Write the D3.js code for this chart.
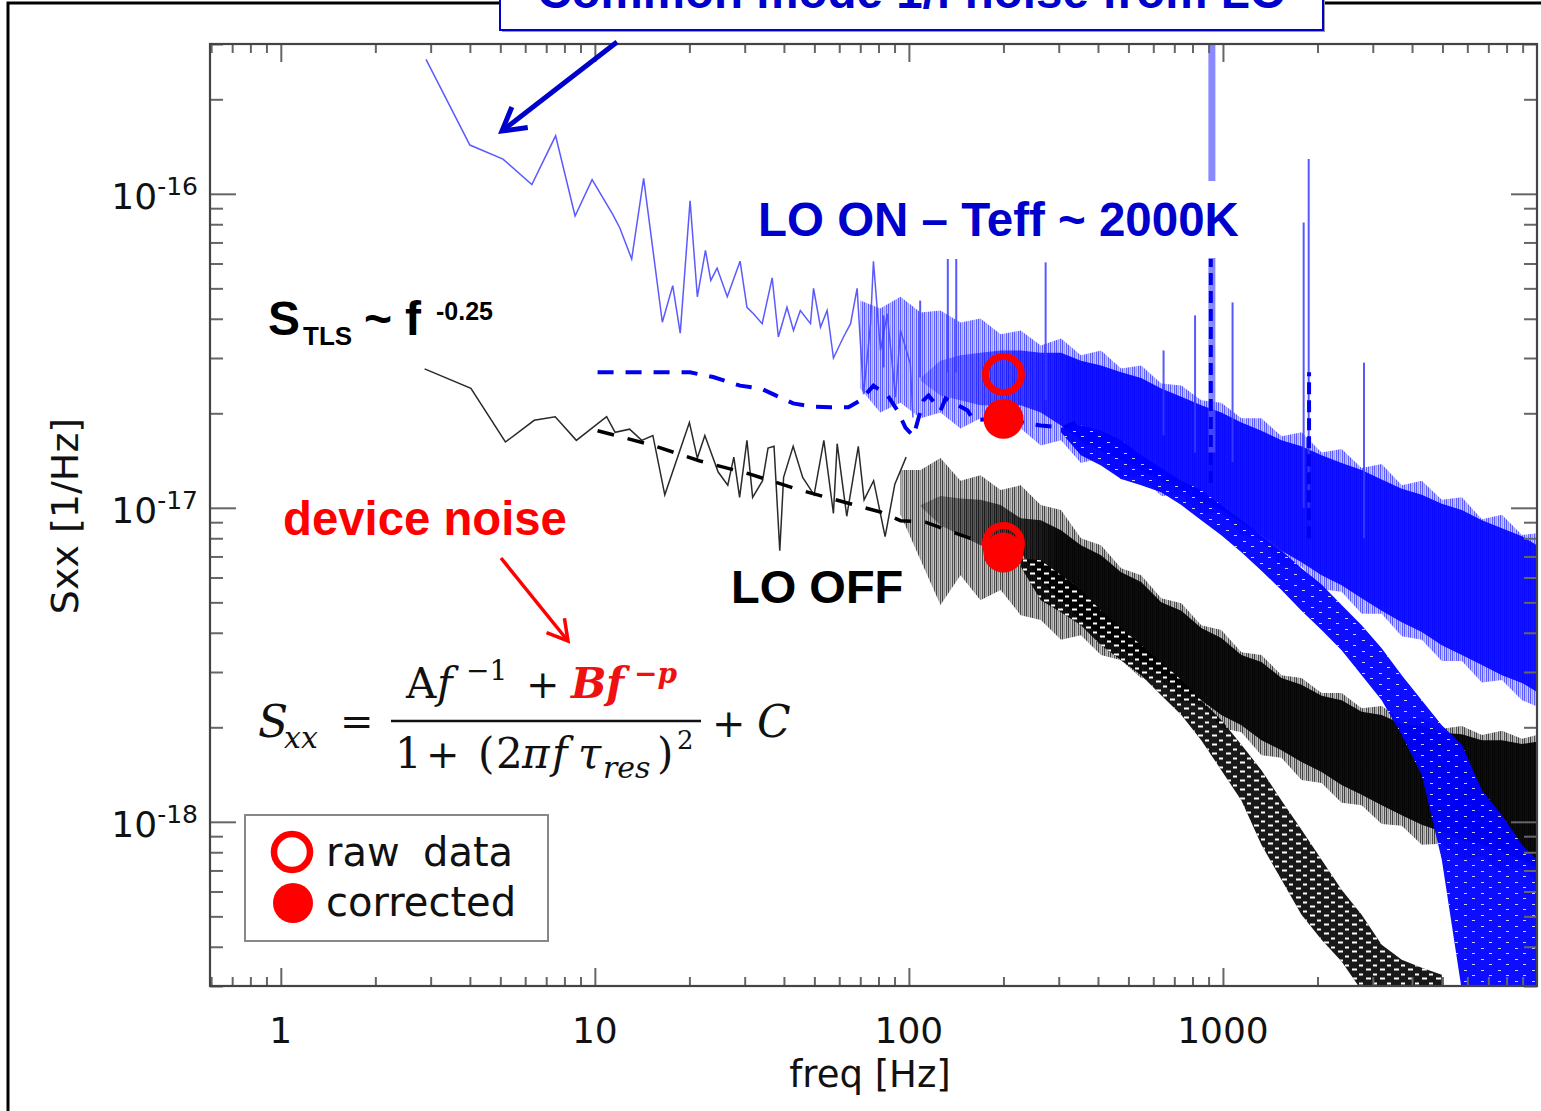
<!DOCTYPE html>
<html><head><meta charset="utf-8">
<script src="https://cdn.jsdelivr.net/npm/d3@7"></script>
<style>
body{margin:0;background:#fff;}
svg{display:block;}
</style></head><body>
<svg id="chart" width="1541" height="1111"></svg>
<script>
// Noise spectra Sxx, values in units of 1e-18 1/Hz, frequency in Hz.

// LO ON, raw spectrum: resolved low-frequency points
const loOnRawFreq = [2.9, 4.0, 5.1, 6.3, 7.5, 8.65, 9.8, 11.4, 12.0, 13.1, 14.3, 16.4, 17.7, 18.7, 20.1, 21.2, 22.5, 23.4, 24.5, 26.4, 29.0, 30.5, 32.0, 34.1, 36.7, 38.4, 40.9, 42.9, 45.1, 48.6, 49.7, 52.3, 54.9, 57.5, 61.9, 65.2, 68.4, 71.7, 75.5, 77.1, 81.2, 85.3, 90.6, 94.0, 101, 103];
const loOnRawVal = [268, 143, 129, 107, 153, 85, 111, 86, 78, 62, 112, 39, 51, 36, 95, 47, 66, 53, 58, 47, 61, 43.5, 41.5, 38.6, 54, 35, 43.5, 36.7, 42.5, 38.6, 50, 37.6, 42.5, 30, 35, 38.6, 50, 23, 38.6, 61, 31.7, 41.5, 22.5, 36.7, 28.8, 19.4];

// LO OFF, raw spectrum: resolved low-frequency points
const loOffRawFreq = [2.87, 4.03, 5.19, 6.41, 7.48, 8.73, 10.9, 11.6, 12.9, 14.1, 15.3, 16.7, 20.0, 21.2, 22.4, 24.7, 26.5, 27.7, 28.9, 30.5, 31.8, 34.2, 35.6, 37.2, 38.8, 39.9, 42.8, 45.9, 49.9, 53.6, 57.5, 59.1, 63.4, 69.0, 72.0, 77.2, 84.0, 90.2, 98.0];
const loOffRawVal = [27.7, 24.0, 16.2, 19.0, 19.5, 16.4, 19.5, 17.4, 17.8, 16.4, 17.0, 11.0, 18.7, 14.4, 17.0, 13.0, 11.8, 14.5, 10.8, 16.4, 10.8, 12.2, 15.5, 15.7, 7.3, 12.5, 15.7, 12.5, 11.0, 16.4, 9.6, 16.0, 9.4, 15.7, 10.6, 12.2, 8.1, 11.9, 14.5];

// Corrected spectra, binned low-frequency parts (dashed)
const loOnCorrFreq = [10.2, 15.0, 20.1, 23.8, 29.0, 33.7, 42.8, 49.6, 56.3, 64.2, 70.1, 77.1, 85.5, 92.0, 97.5, 103.4, 111.3, 115.5, 126.1, 130.8, 153.8, 160.7, 199, 235, 263, 311, 335, 371];
const loOnCorrVal = [27.0, 27.0, 27.0, 26.1, 24.5, 24.0, 21.5, 21.0, 20.9, 20.9, 22.0, 24.5, 22.8, 20.4, 18.0, 16.9, 22.0, 22.8, 20.4, 22.3, 20.4, 19.0, 19.3, 18.6, 18.3, 18.0, 18.6, 15.8];
const loOffCorrFreq = [10.2, 15.0, 21.6, 31.2, 44.9, 65.0, 81.2, 94.1, 113, 146, 196];
const loOffCorrVal = [17.6, 15.9, 14.1, 12.8, 11.4, 10.3, 9.7, 9.1, 9.0, 8.2, 7.4];

// Dense high-frequency parts: spread of each spectrum on a common frequency grid
const bandFreq = [70, 81, 94, 109, 126, 146, 169, 196, 227, 263, 305, 353, 409, 474, 549, 636, 737, 853, 988, 1145, 1326, 1536, 1779, 2061, 2387, 2765, 3202, 3709, 4296, 4976, 5764, 6676, 7733, 8957, 10000];

const loOnRawOuterHi = [45.7, 43.1, 47.0, 41.9, 42.5, 38.9, 40.1, 35.7, 36.7, 32.9, 34.6, 30.6, 31.7, 27.8, 28.4, 24.9, 24.5, 22.0, 21.6, 19.3, 19.3, 16.9, 17.4, 15.0, 15.4, 13.4, 13.8, 11.8, 12.2, 10.6, 10.8, 9.2, 9.5, 8.2, 8.3];
const loOnRawOuterLo = [24.0, 20.1, 21.6, 19.3, 20.1, 17.9, 19.3, 17.6, 17.9, 15.8, 16.4, 13.9, 14.4, 12.3, 12.7, 10.9, 11.0, 9.5, 9.7, 8.2, 7.9, 6.5, 6.5, 5.5, 5.4, 4.6, 4.6, 3.9, 3.8, 3.25, 3.25, 2.78, 2.83, 2.44, 2.33];
const loOnRawCoreHi = [null, null, null, 25.9, 29.4, 30.6, 31.2, 31.7, 31.7, 31.2, 31.2, 29.4, 28.4, 27.0, 25.9, 24.0, 22.6, 21.2, 20.1, 18.7, 17.6, 16.4, 15.7, 14.7, 13.9, 13.2, 12.3, 11.5, 11.0, 10.3, 9.84, 9.13, 8.61, 8.12, 7.6];
const loOnRawCoreLo = [null, null, null, 25.4, 22.8, 22.0, 21.2, 21.2, 21.2, 20.1, 18.3, 16.4, 15.2, 14.2, 13.2, 12.2, 11.4, 10.4, 9.84, 8.99, 8.18, 7.3, 6.71, 6.10, 5.67, 5.15, 4.7, 4.32, 4.02, 3.65, 3.40, 3.16, 2.93, 2.77, 2.59];

const loOffRawOuterHi = [null, null, 13.2, 13.2, 14.4, 12.2, 12.7, 11.4, 11.8, 10.2, 9.84, 8.0, 7.6, 6.42, 6.10, 5.15, 4.97, 4.23, 4.08, 3.47, 3.40, 2.93, 2.87, 2.57, 2.57, 2.30, 2.34, 2.11, 2.14, 1.98, 2.02, 1.89, 1.95, 1.84, 1.89];
const loOffRawOuterLo = [null, null, 9.5, 6.81, 4.90, 6.10, 5.08, 5.47, 4.55, 4.39, 3.80, 3.93, 3.40, 3.27, 2.87, 2.83, 2.41, 2.36, 1.99, 1.93, 1.63, 1.60, 1.36, 1.33, 1.15, 1.13, 0.985, 0.971, 0.845, 0.851, 0.757, 0.780, 0.694, 0.714, 0.645];
const loOffRawCoreHi = [null, null, null, 10.2, 10.9, 10.7, 10.6, 10.2, 9.26, 9.13, 8.48, 7.6, 7.06, 6.23, 5.80, 5.0, 4.7, 4.14, 3.85, 3.40, 3.23, 2.87, 2.73, 2.52, 2.44, 2.24, 2.19, 2.05, 2.02, 1.92, 1.90, 1.82, 1.82, 1.77, 1.80];
const loOffRawCoreLo = [null, null, null, 10.1, 8.8, 8.18, 7.6, 7.22, 7.22, 5.88, 5.08, 4.39, 3.93, 3.58, 3.23, 2.93, 2.63, 2.44, 2.19, 2.03, 1.82, 1.69, 1.55, 1.44, 1.31, 1.22, 1.13, 1.05, 0.978, 0.929, 0.877, 0.845, 0.803, 0.757, 0.714];

const loOnCorrHi = [null, null, null, null, null, null, null, null, null, null, 18.0, 18.3, 17.6, 16.4, 14.7, 13.4, 12.2, 11.4, 10.2, 9.13, 8.18, 7.3, 6.42, 5.7, 4.9, 4.23, 3.57, 2.93, 2.44, 2.03, 1.76, 1.26, 1.05, 0.845, 0.757];
const loOnCorrLo = [null, null, null, null, null, null, null, null, null, null, 17.4, 14.7, 13.65, 12.35, 11.8, 11.2, 10.2, 9.13, 8.18, 7.22, 6.3, 5.47, 4.7, 4.08, 3.52, 2.93, 2.44, 1.89, 1.41, 0.757, 0.29, 0.29, 0.29, 0.29, 0.29];

const loOffCorrHi = [null, null, null, null, null, null, null, null, 6.9, 6.81, 6.10, 5.47, 4.70, 4.14, 3.65, 3.23, 2.83, 2.44, 2.11, 1.76, 1.46, 1.17, 0.943, 0.757, 0.608, 0.506, 0.406, 0.364, 0.343, 0.326, null, null, null, null, null];
const loOffCorrLo = [null, null, null, null, null, null, null, null, 6.5, 5.08, 4.65, 4.23, 3.65, 3.27, 2.93, 2.53, 2.19, 1.82, 1.46, 1.17, 0.845, 0.654, 0.506, 0.421, 0.359, 0.29, 0.29, 0.29, 0.29, 0.29, null, null, null, null, null];

// Narrow lines in the LO ON spectrum
const spikeFreq = [83, 108.6, 133, 141.5, 272.5, 647, 815, 1073, 1807, 1875, 2813];
const spikeLow  = [28, 26, 27, 27, 22, 17, 15, 14, 10, 10, 8];
const spikeHigh = [41, 45.7, 62, 62, 60.5, 31.7, 41, 45.1, 81, 129, 29];
const mainsFreq = [922];
const mainsLow = [15];
const mainsHigh = [400];
const corrSpikeFreq = [915, 1880];
const corrSpikeLow = [12, 8];
const corrSpikeHigh = [62, 27];

// Values at 200 Hz: raw and corrected, LO ON and LO OFF
const markerFreq = [200, 200];
const markerRaw = [26.6, 7.7];
const markerCorrected = [19.2, 7.2];

// Axis ticks
const xMajor = [1, 10, 100, 1000];
const xLabels = ["1", "10", "100", "1000"];
const yMajor = [100, 10, 1];
const yExponents = ["-16", "-17", "-18"];

const W = 1541, H = 1111;
const margin = {left: 210, right: 1537, top: 44, bottom: 986};
const svg = d3.select("#chart");

const x = d3.scaleLog().domain([0.595, 10000]).range([margin.left, margin.right]);
const y = d3.scaleLog().domain([0.3, 300]).range([margin.bottom, margin.top]);

svg.append("rect").attr("width", W).attr("height", H).attr("fill", "#fff");

// page frame
svg.append("rect").attr("x", 8).attr("y", 3).attr("width", 1700).attr("height", 1300)
  .attr("fill", "none").attr("stroke", "#000").attr("stroke-width", 3);

const defs = svg.append("defs");
defs.append("clipPath").attr("id", "plotClip").append("rect")
  .attr("x", margin.left).attr("y", margin.top)
  .attr("width", margin.right - margin.left).attr("height", margin.bottom - margin.top);

// fill textures: fine vertical strokes for the dense raw spectra, small gaps for the dashed ones
function hairPattern(id, cols) {
  const p = defs.append("pattern").attr("id", id).attr("patternUnits", "userSpaceOnUse")
    .attr("width", 6).attr("height", 10);
  [[0, 1.4], [2.2, 1.0], [3.8, 1.6]].forEach((r, i) =>
    p.append("rect").attr("x", r[0]).attr("y", 0).attr("width", r[1]).attr("height", 10).attr("fill", cols[i]));
}
hairPattern("hairBlue", ["#1f1fff", "#5050ff", "#2a2aff"]);
hairPattern("hairBlack", ["#111", "#555", "#222"]);
function gapPattern(id, w, h, rects) {
  const p = defs.append("pattern").attr("id", id).attr("patternUnits", "userSpaceOnUse")
    .attr("width", w).attr("height", h);
  rects.forEach(r => p.append("rect").attr("x", r[0]).attr("y", r[1]).attr("width", r[2]).attr("height", r[3]).attr("fill", "#fff"));
}
gapPattern("gapBlue", 17, 11, [[2, 2, 3, 1], [10, 7, 3, 1]]);
gapPattern("gapBlack", 14, 9, [[1, 1.5, 4, 2], [8, 5.5, 5, 2]]);

// horizontal fades for the dense parts where the spectra start to overlap
function fade(id, col, f0, f1, o0, o1) {
  const g = defs.append("linearGradient").attr("id", id).attr("gradientUnits", "userSpaceOnUse")
    .attr("x1", x(f0)).attr("x2", x(f1)).attr("y1", 0).attr("y2", 0);
  g.append("stop").attr("offset", 0).attr("stop-color", col).attr("stop-opacity", o0);
  g.append("stop").attr("offset", 1).attr("stop-color", col).attr("stop-opacity", o1);
}
fade("fadeBlue", "#0000ff", 100, 330, 0.2, 0.9);
fade("fadeBlack", "#000", 105, 300, 0.25, 0.93);

const plot = svg.append("g").attr("clip-path", "url(#plotClip)");

const line = d3.line().x(d => x(d[0])).y(d => y(d[1]));
const zip = (a, b) => a.map((v, i) => [v, b[i]]);
const bandData = (hi, lo) => bandFreq.map((f, i) => ({f, hi: hi[i], lo: lo[i]})).filter(d => d.hi != null);
const area = d3.area().x(d => x(d.f)).y0(d => y(d.lo)).y1(d => y(d.hi));

// ---- LO ON raw (thin blue)
plot.append("path").datum(bandData(loOnRawOuterHi, loOnRawOuterLo)).attr("d", area)
  .attr("fill", "url(#hairBlue)").attr("opacity", 0.75);
plot.append("path").datum(bandData(loOnRawCoreHi, loOnRawCoreLo)).attr("d", area)
  .attr("fill", "url(#fadeBlue)");
plot.append("path").datum(zip(loOnRawFreq, loOnRawVal)).attr("d", line)
  .attr("fill", "none").attr("stroke", "#4848ff").attr("stroke-width", 1.5).attr("opacity", 0.9);
spikeFreq.forEach((f, i) => {
  plot.append("path").datum([[f, spikeLow[i]], [f, spikeHigh[i]]]).attr("d", line)
    .attr("stroke", "#3c3cff").attr("stroke-width", 2).attr("opacity", 0.85);
});
mainsFreq.forEach((f, i) => {
  plot.append("path").datum([[f, mainsLow[i]], [f, mainsHigh[i]]]).attr("d", line)
    .attr("stroke", "#5a5aff").attr("stroke-width", 7).attr("opacity", 0.7);
});

// ---- LO OFF raw (black)
plot.append("path").datum(bandData(loOffRawOuterHi, loOffRawOuterLo)).attr("d", area)
  .attr("fill", "url(#hairBlack)").attr("opacity", 0.8);
plot.append("path").datum(bandData(loOffRawCoreHi, loOffRawCoreLo)).attr("d", area)
  .attr("fill", "url(#fadeBlack)");
plot.append("path").datum(zip(loOffRawFreq, loOffRawVal)).attr("d", line)
  .attr("fill", "none").attr("stroke", "#2a2a2a").attr("stroke-width", 1.5);

// ---- LO OFF corrected (black dashed)
plot.append("path").datum(zip(loOffCorrFreq, loOffCorrVal)).attr("d", line)
  .attr("fill", "none").attr("stroke", "#000").attr("stroke-width", 3.5)
  .attr("stroke-dasharray", "17,14");
const offCorr = bandData(loOffCorrHi, loOffCorrLo);
plot.append("path").datum(offCorr).attr("d", area).attr("fill", "#000").attr("opacity", 0.9);
plot.append("path").datum(offCorr).attr("d", area).attr("fill", "url(#gapBlack)");

// ---- LO ON corrected (blue dashed)
plot.append("path").datum(zip(loOnCorrFreq, loOnCorrVal)).attr("d", line)
  .attr("fill", "none").attr("stroke", "#0000ee").attr("stroke-width", 4)
  .attr("stroke-dasharray", "16,12");
const onCorr = bandData(loOnCorrHi, loOnCorrLo);
plot.append("path").datum(onCorr).attr("d", area).attr("fill", "#0000ff").attr("opacity", 0.95);
plot.append("path").datum(onCorr).attr("d", area).attr("fill", "url(#gapBlue)").attr("opacity", 0.8);
corrSpikeFreq.forEach((f, i) => {
  plot.append("path").datum([[f, corrSpikeLow[i]], [f, corrSpikeHigh[i]]]).attr("d", line)
    .attr("stroke", "#0000ee").attr("stroke-width", 4).attr("stroke-dasharray", "12,6");
});

// white label box over the spectra
svg.append("rect").attr("x", 750).attr("y", 181).attr("width", 468).attr("height", 77).attr("fill", "#fff");

// ---- frame and ticks
const axG = svg.append("g");
const minorX = [];
[0.1, 1, 10, 100, 1000].forEach(d => { for (let m = 2; m <= 9; m++) { const v = m * d; if (v >= 0.595 && v <= 10000) minorX.push(v); } });
const minorY = [];
[0.1, 1, 10, 100].forEach(d => { for (let m = 2; m <= 9; m++) { const v = m * d; if (v >= 0.3 && v <= 300) minorY.push(v); } });

function addAxis(gen, tr) {
  const g = axG.append("g").attr("transform", tr).call(gen);
  g.select(".domain").remove();
  g.selectAll("line").attr("stroke", "#666").attr("stroke-width", 2);
  g.selectAll("text").remove();
}
addAxis(d3.axisBottom(x).tickValues(xMajor).tickSize(-18), `translate(0,${margin.bottom})`);
addAxis(d3.axisBottom(x).tickValues(minorX).tickSize(-9), `translate(0,${margin.bottom})`);
addAxis(d3.axisTop(x).tickValues(xMajor).tickSize(-18), `translate(0,${margin.top})`);
addAxis(d3.axisTop(x).tickValues(minorX).tickSize(-9), `translate(0,${margin.top})`);
addAxis(d3.axisLeft(y).tickValues(yMajor).tickSize(-26), `translate(${margin.left},0)`);
addAxis(d3.axisLeft(y).tickValues(minorY).tickSize(-13), `translate(${margin.left},0)`);
addAxis(d3.axisRight(y).tickValues(yMajor).tickSize(-26), `translate(${margin.right},0)`);
addAxis(d3.axisRight(y).tickValues(minorY).tickSize(-13), `translate(${margin.right},0)`);

axG.append("rect").attr("x", margin.left).attr("y", margin.top)
  .attr("width", margin.right - margin.left).attr("height", margin.bottom - margin.top)
  .attr("fill", "none").attr("stroke", "#444").attr("stroke-width", 2.2);

// tick labels
const axisFont = "'DejaVu Sans', sans-serif";
xMajor.forEach((v, i) => {
  svg.append("text").attr("x", x(v)).attr("y", 1043).attr("text-anchor", "middle")
    .attr("font-family", axisFont).attr("font-size", 36).attr("fill", "#111").text(xLabels[i]);
});
yMajor.forEach((v, i) => {
  const t = svg.append("text").attr("x", 198).attr("y", y(v) + 15).attr("text-anchor", "end")
    .attr("font-family", axisFont).attr("fill", "#111");
  t.append("tspan").attr("font-size", 36).text("10");
  t.append("tspan").attr("font-size", 25).attr("dy", -14).text(yExponents[i]);
});
svg.append("text").attr("x", 870).attr("y", 1087).attr("text-anchor", "middle")
  .attr("font-family", axisFont).attr("font-size", 37).attr("fill", "#111").text("freq [Hz]");
svg.append("text").attr("transform", "translate(78,516) rotate(-90)").attr("text-anchor", "middle")
  .attr("font-family", axisFont).attr("font-size", 38).attr("fill", "#111").text("Sxx [1/Hz]");

// ---- 200 Hz markers (raw drawn first, corrected on top)
const red = "#ff0000";
markerFreq.forEach((f, i) => {
  svg.append("circle").attr("cx", x(f)).attr("cy", y(markerRaw[i])).attr("r", 18)
    .attr("fill", "none").attr("stroke", red).attr("stroke-width", 7);
});
markerFreq.forEach((f, i) => {
  svg.append("circle").attr("cx", x(f)).attr("cy", y(markerCorrected[i])).attr("r", 20).attr("fill", red);
});

// ---- annotations
const bold = "'Liberation Sans', Arial, sans-serif";
svg.append("text").attr("x", 758).attr("y", 236).attr("font-family", bold).attr("font-weight", "bold")
  .attr("font-size", 47.5).attr("fill", "#0000cc").text("LO ON \u2013 Teff ~ 2000K");
svg.append("text").attr("x", 731).attr("y", 603).attr("font-family", bold).attr("font-weight", "bold")
  .attr("font-size", 47).attr("fill", "#000").text("LO OFF");
svg.append("text").attr("x", 283).attr("y", 535).attr("font-family", bold).attr("font-weight", "bold")
  .attr("font-size", 47.3).attr("fill", "#ff0000").text("device noise");

// S_TLS ~ f^-0.25
const stls = [
  {t: "S", x: 268, y: 335, s: 48},
  {t: "TLS", x: 303, y: 345, s: 26},
  {t: "~", x: 364, y: 335, s: 48},
  {t: "f", x: 405, y: 335, s: 48},
  {t: "-0.25", x: 436, y: 320, s: 25}
];
stls.forEach(d => svg.append("text").attr("x", d.x).attr("y", d.y).attr("font-family", bold)
  .attr("font-weight", "bold").attr("font-size", d.s).attr("fill", "#000").text(d.t));

// arrows
function arrow(x0, y0, x1, y1, color, w, head) {
  svg.append("line").attr("x1", x0).attr("y1", y0).attr("x2", x1).attr("y2", y1)
    .attr("stroke", color).attr("stroke-width", w);
  const a = Math.atan2(y0 - y1, x0 - x1);
  const p = [a + Math.PI / 6, a - Math.PI / 6].map(b => [x1 + head * Math.cos(b), y1 + head * Math.sin(b)]);
  svg.append("path").attr("d", `M${p[0][0]},${p[0][1]}L${x1},${y1}L${p[1][0]},${p[1][1]}`)
    .attr("fill", "none").attr("stroke", color).attr("stroke-width", w).attr("stroke-linejoin", "miter");
}
arrow(617, 42, 502, 131, "#0000cc", 5, 26);
arrow(501, 558, 568, 641, "#ff0000", 3.5, 23);

// formula
const serif = "'DejaVu Serif', 'Liberation Serif', serif";
const formula = [
  {t: "S", x: 258, y: 737, s: 44, i: 1},
  {t: "xx", x: 284, y: 748, s: 30, i: 1},
  {t: "=", x: 340, y: 735, s: 40},
  {t: "A", x: 406, y: 698, s: 42},
  {t: "f", x: 437, y: 698, s: 42, i: 1},
  {t: "\u22121", x: 466, y: 680, s: 28},
  {t: "+", x: 526, y: 698, s: 40},
  {t: "B", x: 571, y: 698, s: 42, i: 1, b: 1, c: "#ee1111"},
  {t: "f", x: 606, y: 698, s: 42, i: 1, b: 1, c: "#ee1111"},
  {t: "\u2212p", x: 634, y: 683, s: 28, i: 1, b: 1, c: "#ee1111"},
  {t: "1", x: 395, y: 768, s: 42},
  {t: "+", x: 426, y: 768, s: 40},
  {t: "(", x: 478, y: 768, s: 42},
  {t: "2", x: 496, y: 768, s: 42},
  {t: "\u03c0", x: 522, y: 768, s: 42, i: 1},
  {t: "f", x: 552, y: 768, s: 42, i: 1},
  {t: "\u03c4", x: 578, y: 768, s: 42, i: 1},
  {t: "res", x: 603, y: 778, s: 30, i: 1},
  {t: ")", x: 657, y: 768, s: 42},
  {t: "2", x: 677, y: 749, s: 26},
  {t: "+", x: 712, y: 737, s: 40},
  {t: "C", x: 757, y: 737, s: 44, i: 1}
];
formula.forEach(d => svg.append("text").attr("x", d.x).attr("y", d.y).attr("font-family", serif)
  .attr("font-size", d.s).attr("font-style", d.i ? "italic" : "normal")
  .attr("font-weight", d.b ? "bold" : "normal").attr("fill", d.c || "#111").text(d.t));
svg.append("line").attr("x1", 391).attr("x2", 701).attr("y1", 721).attr("y2", 721)
  .attr("stroke", "#111").attr("stroke-width", 2.5);

// legend
svg.append("rect").attr("x", 245).attr("y", 815).attr("width", 303).attr("height", 126)
  .attr("fill", "#fff").attr("stroke", "#888").attr("stroke-width", 2);
svg.append("circle").attr("cx", 292).attr("cy", 852).attr("r", 18).attr("fill", "none")
  .attr("stroke", red).attr("stroke-width", 6.5);
svg.append("circle").attr("cx", 293).attr("cy", 903).attr("r", 20).attr("fill", red);
svg.append("text").attr("x", 326).attr("y", 866).attr("font-family", axisFont).attr("font-size", 40)
  .attr("fill", "#111").text("raw");
svg.append("text").attr("x", 423).attr("y", 866).attr("font-family", axisFont).attr("font-size", 40)
  .attr("fill", "#111").text("data");
svg.append("text").attr("x", 326).attr("y", 916).attr("font-family", axisFont).attr("font-size", 40)
  .attr("fill", "#111").text("corrected");

// title box at the top edge
svg.append("rect").attr("x", 502).attr("y", -20).attr("width", 823).attr("height", 52).attr("fill", "#999");
svg.append("rect").attr("x", 500).attr("y", -22).attr("width", 823).attr("height", 52)
  .attr("fill", "#fff").attr("stroke", "#0000cc").attr("stroke-width", 2);
svg.append("text").attr("x", 912).attr("y", 8).attr("text-anchor", "middle").attr("font-family", bold)
  .attr("font-weight", "bold").attr("font-size", 47.5).attr("fill", "#0000cc").text("Common mode 1/f noise from LO");
</script>
</body></html>
